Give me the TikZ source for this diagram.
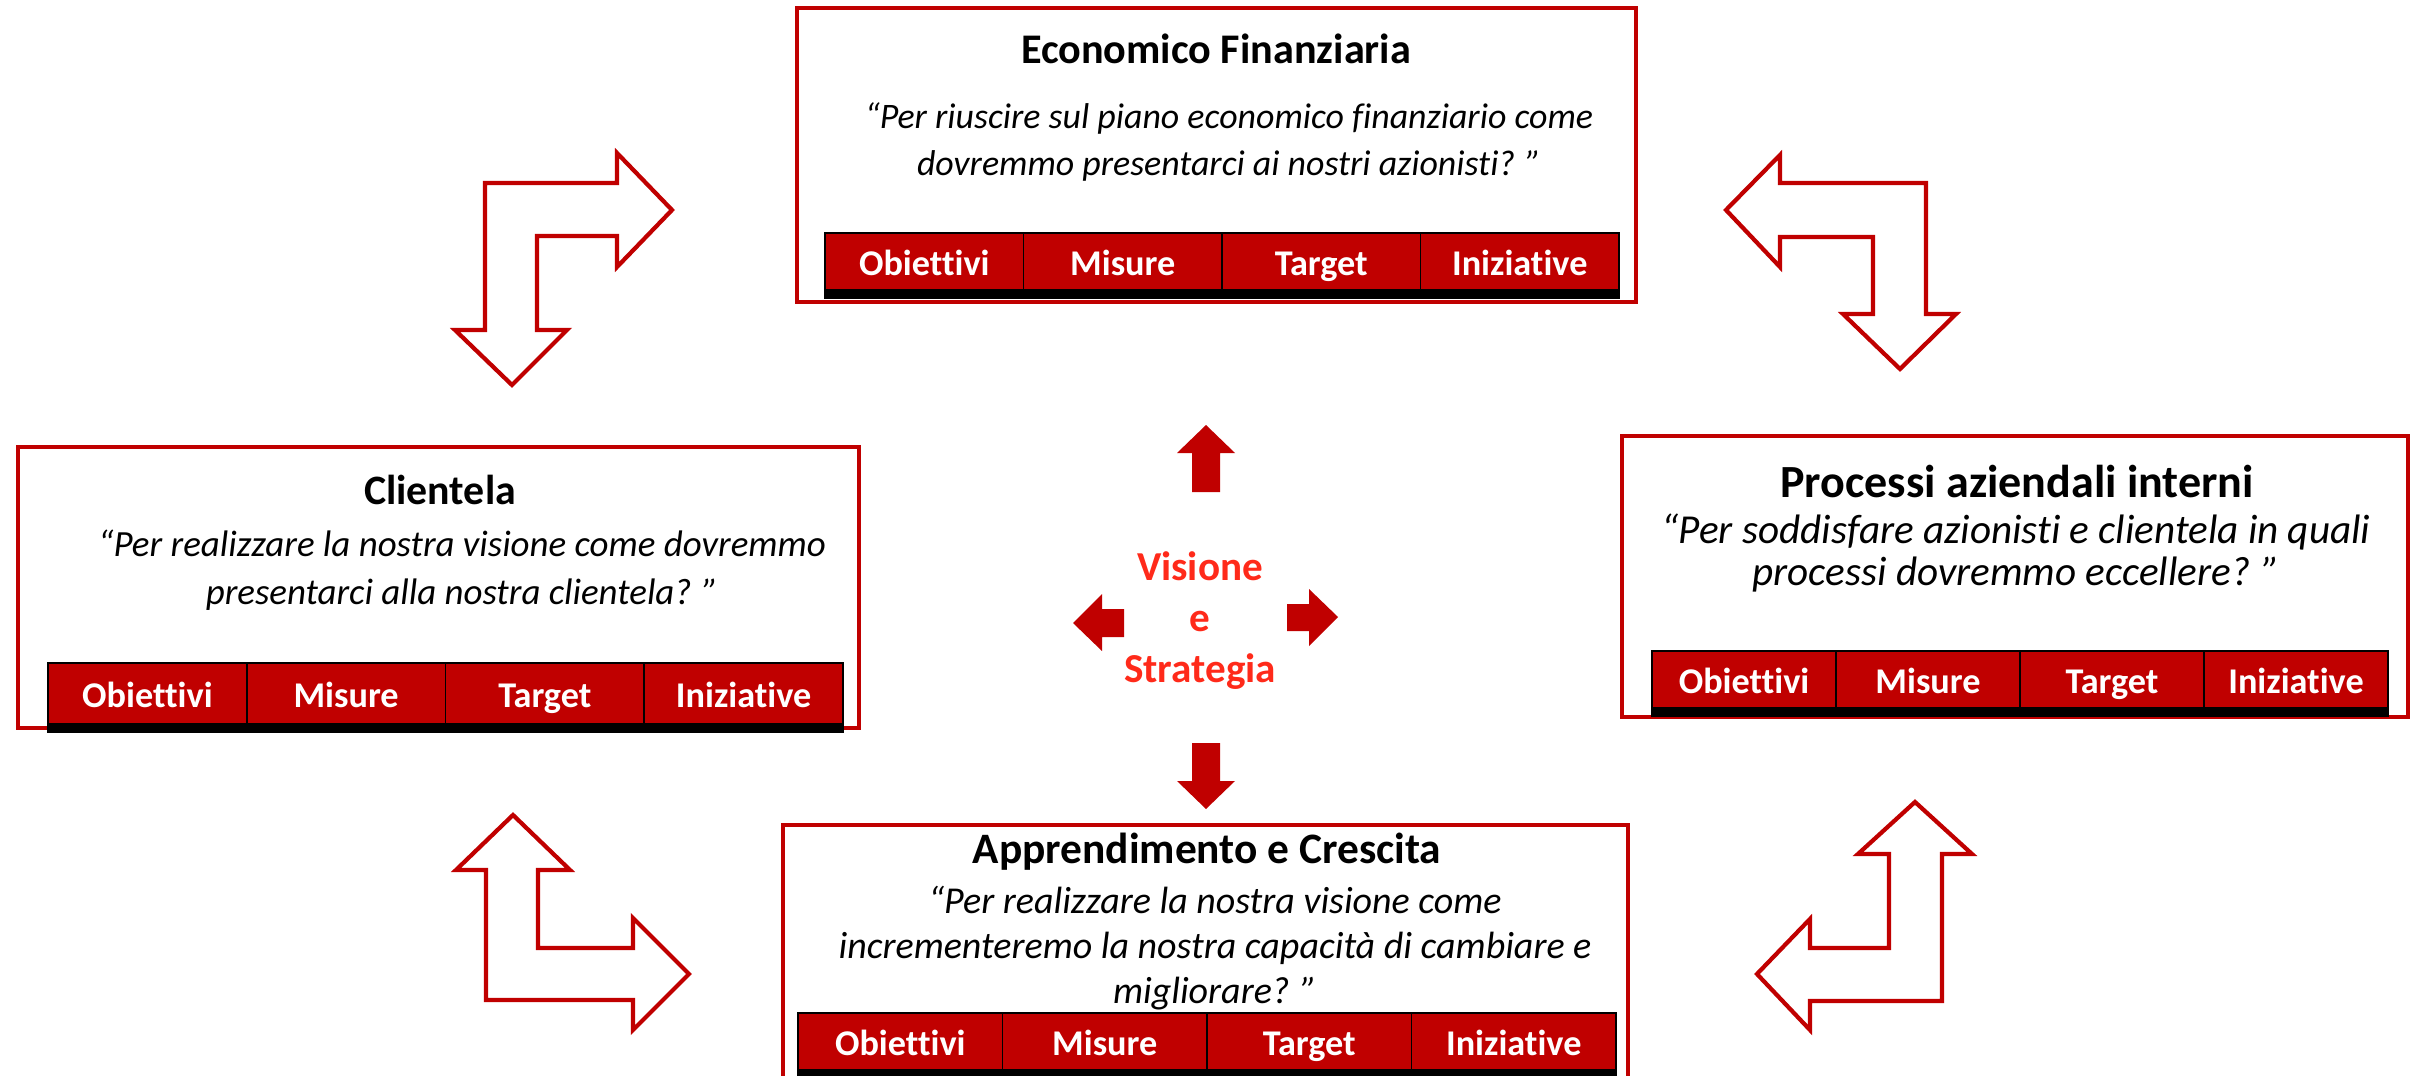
\documentclass[tikz,border=0pt]{standalone}
\usepackage{fontspec}
\setmainfont{Carlito}[Ligatures=CommonOff]
\usetikzlibrary{positioning}
\definecolor{rosso}{HTML}{C00000}
\definecolor{rossovivo}{HTML}{FF2A1A}

\begin{document}
\begin{tikzpicture}[x=0.01cm, y=-0.01cm,
    box/.style={draw=rosso, line width=1.2pt, fill=white, inner sep=0pt},
    titolo/.style={font=\bfseries\fontsize{#1}{14}\selectfont},
    domanda/.style 2 args={align=center, font=\itshape\fontsize{#1}{#2}\selectfont},
    cella/.style={draw=black, line width=0.5pt, fill=rosso, text=white, inner sep=0pt,
                  minimum height=0.57cm, text height=8.8pt, text depth=0.8pt,
                  font=\bfseries\fontsize{10.3}{12}\selectfont},
    barra/.style={fill=black},
    freccia/.style={draw=rosso, line width=1.2pt, fill=white, line join=miter},
    frecciapiena/.style={fill=rosso}]
    \useasboundingbox (0,0) rectangle (2417,1076);
    \clip (0,0) rectangle (2417,1076);

    % riquadri delle quattro prospettive
    \node [box, minimum width=8.39cm, minimum height=2.94cm] (eco) at (1216.5,155) {};
    \node [box, minimum width=8.41cm, minimum height=2.81cm] (cli) at (438.5,587.5) {};
    \node [box, minimum width=7.86cm, minimum height=2.81cm] (pro) at (2015,576.5) {};
    \node [box, minimum width=8.45cm, minimum height=2.75cm] (app) at (1205.5,962.5) {};

    \node [titolo=12] (ecot) at (1216,49) {Economico Finanziaria};
    \node [domanda={10.2}{13.4}] (ecod) at (1229,142) {“Per riuscire sul piano economico finanziario come\\dovremmo presentarci ai nostri azionisti? ”};

    \node [titolo=11.9] (clit) at (440,490) {Clientela};
    \node [domanda={10.5}{13.6}] (clid) at (462,570) {“Per realizzare la nostra visione come dovremmo\\presentarci alla nostra clientela? ”};

    \node [titolo=13.1] (prot) at (2017,482) {Processi aziendali interni};
    \node [domanda={11.7}{11.8}] (prod) at (2016,553) {“Per soddisfare azionisti e clientela in quali\\processi dovremmo eccellere? ”};

    \node [titolo=12.35] (appt) at (1207,852) {Apprendimento e Crescita};
    \node [domanda={10.8}{12.7}] (appd) at (1215,948) {“Per realizzare la nostra visione come\\incrementeremo la nostra capacità di cambiare e\\migliorare? ”};

    % tabelle
    \foreach \t [count=\i] in {Obiettivi,Misure,Target,Iniziative} {
        \node [cella, minimum width=1.985cm] (eco\i) at ({825+198.5*(\i-0.5)},261.5) {\t};
        \node [cella, minimum width=1.9875cm, minimum height=0.61cm] (cli\i) at ({48+198.75*(\i-0.5)},693.5) {\t};
        \node [cella, minimum width=1.84cm] (pro\i) at ({1652+184*(\i-0.5)},679.5) {\t};
        \node [cella, minimum width=2.045cm] (app\i) at ({798+204.5*(\i-0.5)},1041.5) {\t};
    }
    \fill [barra] (eco1.south west) rectangle ([yshift=-0.08cm]eco4.south east);
    \fill [barra] (cli1.south west) rectangle ([yshift=-0.08cm]cli4.south east);
    \fill [barra] (pro1.south west) rectangle ([yshift=-0.08cm]pro4.south east);
    \fill [barra] (app1.south west) rectangle ([yshift=-0.08cm]app4.south east);

    % centro
    \node [align=center, text=rossovivo, font=\bfseries\fontsize{11.7}{14.5}\selectfont] (vis) at (1200,621) {Visione\\e\\Strategia};
    \fill [frecciapiena] (1192,492) -- (1192,453) -- (1177,453) -- (1206,425) -- (1235,453) -- (1220,453) -- (1220,492) -- cycle;
    \fill [frecciapiena] (1192,743) -- (1192,781) -- (1177,781) -- (1206,809) -- (1235,781) -- (1220,781) -- (1220,743) -- cycle;
    \fill [frecciapiena] (1124,609) -- (1102,609) -- (1102,594) -- (1073,623) -- (1102,651) -- (1102,637) -- (1124,637) -- cycle;
    \fill [frecciapiena] (1287,604) -- (1309,604) -- (1309,589) -- (1338,617) -- (1309,646) -- (1309,631) -- (1287,631) -- cycle;

    % frecce piegate
    \draw [freccia] (485,183) -- (617,183) -- (617,153) -- (672,210) -- (617,267) -- (617,236) -- (537,236) -- (537,330) -- (567,330) -- (512,385) -- (455,330) -- (485,330) -- cycle;
    \draw [freccia] (1926,183) -- (1780,183) -- (1780,155) -- (1726,210) -- (1780,267) -- (1780,237) -- (1873,237) -- (1873,314) -- (1843,314) -- (1900,369) -- (1956,314) -- (1926,314) -- cycle;
    \draw [freccia] (486,1000) -- (486,870) -- (456,870) -- (513,815) -- (570,870) -- (538,870) -- (538,948) -- (633,948) -- (633,918) -- (689,974) -- (633,1030) -- (633,1000) -- cycle;
    \draw [freccia] (1942,1001) -- (1942,854) -- (1972,854) -- (1915,802) -- (1858,854) -- (1889,854) -- (1889,948) -- (1810,948) -- (1810,919) -- (1757,974) -- (1810,1030) -- (1810,1001) -- cycle;
\end{tikzpicture}
\end{document}
